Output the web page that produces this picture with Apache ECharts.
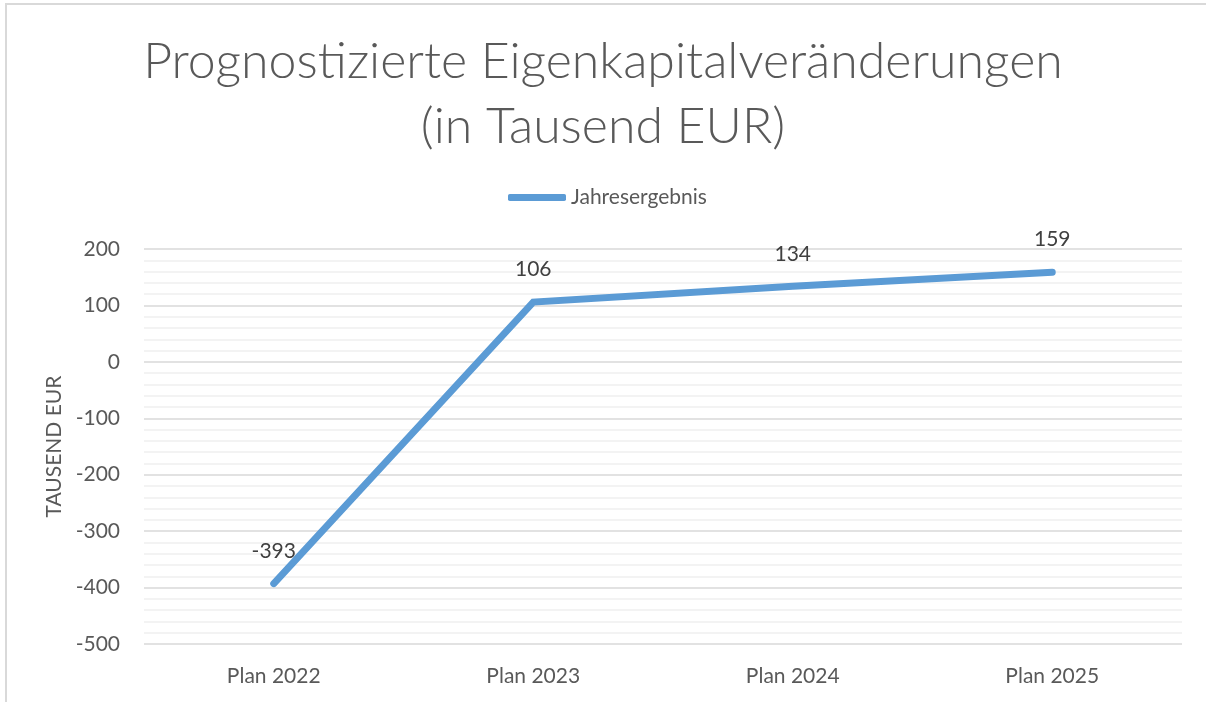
<!DOCTYPE html>
<html>
<head>
<meta charset="utf-8">
<title>Eigenkapitalveränderungen</title>
<script src="https://cdn.jsdelivr.net/npm/echarts@6/dist/echarts.min.js"></script>
<style>
    html, body { margin: 0; padding: 0; background: #fff; }
    #chart { width: 1206px; height: 702px; }
</style>
</head>
<body>
<div id="chart"></div>
<script>
// Kategorien und Werte (Tausend EUR)
const categories = ["Plan 2022", "Plan 2023", "Plan 2024", "Plan 2025"];
const jahresergebnis = [-393, 106, 134, 159];
const seriesName = "Jahresergebnis";

const FONT = "Lato, 'Open Sans', sans-serif";
const GREY = "#595959";

var chart = echarts.init(document.getElementById("chart"));

let option = {
    textStyle: { fontFamily: FONT },
    title: {
        text: "Prognostizierte Eigenkapitalveränderungen\n(in Tausend EUR)",
        left: "center",
        top: 24,
        textStyle: {
            fontFamily: FONT,
            fontSize: 50,
            fontWeight: 300,
            color: GREY,
            lineHeight: 65
        }
    },
    legend: {
        data: [seriesName],
        left: 503,
        top: 182,
        icon: "roundRect",
        itemWidth: 58,
        itemHeight: 7,
        textStyle: { fontFamily: FONT, fontSize: 21, color: GREY }
    },
    grid: {
        left: 144,
        right: 24,
        top: 249,
        bottom: 58
    },
    xAxis: {
        type: "category",
        data: categories,
        boundaryGap: true,
        axisLine: { show: false },
        axisTick: { show: false },
        axisLabel: { fontFamily: FONT, fontSize: 21, color: GREY, margin: 22 }
    },
    yAxis: {
        type: "value",
        min: -500,
        max: 200,
        interval: 100,
        name: "TAUSEND EUR",
        nameLocation: "middle",
        nameGap: 76,
        nameTextStyle: { fontFamily: FONT, fontSize: 21, color: GREY },
        axisLine: { show: false },
        axisTick: { show: false },
        axisLabel: { fontFamily: FONT, fontSize: 21, color: GREY, margin: 24 },
        splitLine: { lineStyle: { color: "#d9d9d9", width: 1.5 } },
        minorTick: { show: false, splitNumber: 5 },
        minorSplitLine: { show: true, lineStyle: { color: "#f0f0f0", width: 1.5 } }
    },
    series: [{
        name: seriesName,
        type: "line",
        data: jahresergebnis,
        symbol: "circle",
        symbolSize: 0,
        lineStyle: { color: "#5b9bd5", width: 7, cap: "round", join: "miter" },
        itemStyle: { color: "#5b9bd5" },
        label: {
            show: true,
            position: "top",
            distance: 22,
            fontFamily: FONT,
            fontSize: 21,
            color: "#404040"
        }
    }],
    graphic: [{
        type: "rect",
        shape: { x: 6, y: 4, width: 1400, height: 900 },
        style: { fill: "none", stroke: "#d9d9d9", lineWidth: 2 },
        silent: true
    }]
};

chart.setOption(option);
</script>
</body>
</html>
